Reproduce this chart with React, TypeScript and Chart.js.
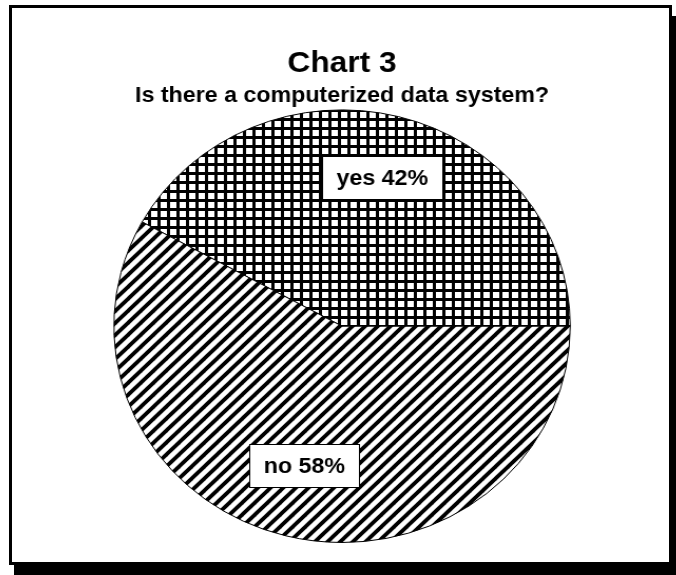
import React, { useEffect, useRef } from "react";
import { Chart, registerables } from "chart.js";

Chart.register(...registerables);

const TITLE = "Chart 3";
const SUBTITLE = "Is there a computerized data system?";
const categories = ["yes", "no"];
const values = [42, 58];

const STRETCH_X = 1.055;
const CANVAS_W = 620;
const CANVAS_H = 551;
const LABEL_RADIUS = [0.71, 0.665];

function makeCrossHatch(): CanvasPattern | string {
  const c = document.createElement("canvas");
  c.width = 9;
  c.height = 9;
  const g = c.getContext("2d");
  if (!g) return "#888";
  g.fillStyle = "#fff";
  g.fillRect(0, 0, 9, 9);
  g.fillStyle = "#000";
  g.fillRect(0, 0, 9, 3);
  g.fillRect(0, 0, 3, 9);
  return g.createPattern(c, "repeat") || "#888";
}

function makeDiagonal(): CanvasPattern | string {
  const s = 12;
  const c = document.createElement("canvas");
  c.width = s;
  c.height = s;
  const g = c.getContext("2d");
  if (!g) return "#888";
  g.fillStyle = "#fff";
  g.fillRect(0, 0, s, s);
  g.strokeStyle = "#000";
  g.lineWidth = 3.8;
  g.lineCap = "square";
  const seg = (x1: number, y1: number, x2: number, y2: number) => {
    g.beginPath();
    g.moveTo(x1, y1);
    g.lineTo(x2, y2);
    g.stroke();
  };
  seg(-s, s * 2, s * 2, -s);
  seg(-s, s, s, -s);
  seg(0, s * 2, s * 2, 0);
  return g.createPattern(c, "repeat") || "#888";
}

const labelPlugin = {
  id: "boxLabels",
  afterDatasetsDraw(chart: any) {
    const ctx = chart.ctx;
    const meta = chart.getDatasetMeta(0);
    meta.data.forEach((arc: any, i: number) => {
      const { x, y, startAngle, endAngle, outerRadius } = arc.getProps(
        ["x", "y", "startAngle", "endAngle", "outerRadius"],
        true
      );
      const mid = (startAngle + endAngle) / 2;
      const r = outerRadius * LABEL_RADIUS[i];
      const cx = x + Math.cos(mid) * r;
      const cy = y + Math.sin(mid) * r;
      const text = `${categories[i]} ${values[i]}%`;
      ctx.save();
      ctx.font = "bold 22px 'Liberation Sans', Arial, sans-serif";
      const w = Math.round(ctx.measureText(text).width + 27);
      const h = 43;
      const left = Math.round(cx - w / 2);
      const top = Math.round(cy - h / 2);
      ctx.fillStyle = "#fff";
      ctx.fillRect(left, top, w, h);
      ctx.strokeStyle = "#000";
      ctx.lineWidth = 1;
      ctx.strokeRect(left + 0.5, top + 0.5, w, h);
      ctx.fillStyle = "#000";
      ctx.textAlign = "center";
      ctx.textBaseline = "middle";
      ctx.fillText(text, cx, cy + 1);
      ctx.restore();
    });
  },
};

export default function App() {
  const ref = useRef<HTMLCanvasElement>(null);

  useEffect(() => {
    if (!ref.current) return;
    const chart = new Chart(ref.current, {
      type: "pie",
      data: {
        labels: categories,
        datasets: [
          {
            data: values,
            backgroundColor: [makeCrossHatch(), makeDiagonal()],
            borderColor: "#000",
            borderWidth: 1,
            hoverOffset: 0,
          },
        ],
      },
      options: {
        animation: false,
        responsive: false,
        maintainAspectRatio: false,
        rotation: -61.2,
        layout: { padding: { top: 0, bottom: 18, left: 0, right: 0 } },
        plugins: {
          legend: { display: false },
          tooltip: { enabled: false },
          title: {
            display: true,
            text: TITLE,
            color: "#000",
            font: { family: "'Liberation Sans', Arial, sans-serif", size: 30, weight: "bold" },
            padding: { top: 36, bottom: 1 },
          },
          subtitle: {
            display: true,
            text: SUBTITLE,
            color: "#000",
            font: { family: "'Liberation Sans', Arial, sans-serif", size: 22, weight: "bold" },
            padding: { top: 0, bottom: 0 },
          },
        },
      },
      plugins: [labelPlugin],
    });
    return () => chart.destroy();
  }, []);

  return (
    <div
      style={{
        position: "fixed",
        left: 0,
        top: 0,
        width: 676,
        height: 575,
        background: "#fff",
        overflow: "hidden",
      }}
    >
      <div
        style={{
          position: "absolute",
          left: 9,
          top: 5,
          width: 657,
          height: 554,
          border: "3px solid #000",
          boxShadow: "5px 11px 0 0 #000",
          background: "#fff",
        }}
      >
        <div
          style={{
            position: "absolute",
            left: 3,
            top: 2,
            width: CANVAS_W,
            height: CANVAS_H,
            transform: `scaleX(${STRETCH_X})`,
            transformOrigin: "0 0",
          }}
        >
          <canvas ref={ref} width={CANVAS_W} height={CANVAS_H} style={{ display: "block" }} />
        </div>
      </div>
    </div>
  );
}
